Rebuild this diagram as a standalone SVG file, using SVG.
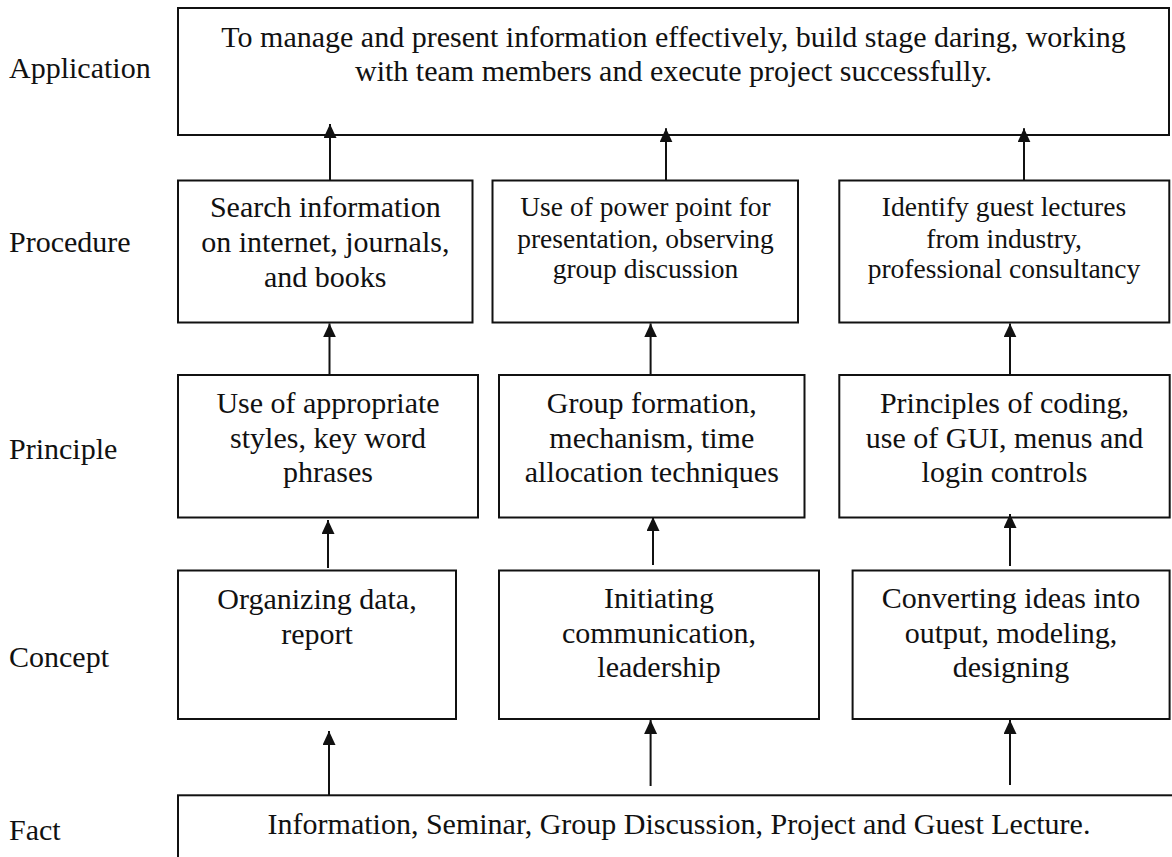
<svg xmlns="http://www.w3.org/2000/svg" width="1172" height="857" viewBox="0 0 1172 857">
<style>
  .box { fill: #ffffff; stroke: #111111; stroke-width: 2; }
  .t { font-family: "Liberation Serif", "Times New Roman", serif; font-size: 30px; fill: #111111; text-anchor: middle; }
  .s { font-family: "Liberation Serif", "Times New Roman", serif; font-size: 27.5px; fill: #111111; text-anchor: middle; }
  .lbl { font-family: "Liberation Serif", "Times New Roman", serif; font-size: 30px; fill: #111111; }
  .arr { stroke: #111111; stroke-width: 2; fill: none; marker-end: url(#ah); }
</style>
<defs>
  <marker id="ah" markerUnits="userSpaceOnUse" markerWidth="15" markerHeight="14" refX="14" refY="6.5" orient="auto">
    <path d="M0,0 L14,6.5 L0,13 z" fill="#111111"/>
  </marker>
</defs>
<rect width="1172" height="857" fill="#ffffff"/>

<g id="labels">
  <text class="lbl" x="9" y="78">Application</text>
  <text class="lbl" x="9" y="252">Procedure</text>
  <text class="lbl" x="9" y="459">Principle</text>
  <text class="lbl" x="9" y="667">Concept</text>
  <text class="lbl" x="9" y="840">Fact</text>
</g>

<g id="application">
  <rect class="box" x="178" y="8" width="991" height="127"/>
  <text class="t" x="673.5" y="47">To manage and present information effectively, build stage daring, working</text>
  <text class="t" x="673.5" y="80.5">with team members and execute project successfully.</text>
</g>

<g id="proc1">
  <rect class="box" x="178" y="180.5" width="294.5" height="142"/>
  <text class="t" x="325.3" y="217">Search information</text>
  <text class="t" x="325.3" y="252">on internet, journals,</text>
  <text class="t" x="325.3" y="287">and books</text>
</g>
<g id="proc2">
  <rect class="box" x="492.5" y="180.5" width="305.5" height="142"/>
  <text class="s" x="645.5" y="216">Use of power point for</text>
  <text class="s" x="645.5" y="247.5">presentation, observing</text>
  <text class="s" x="645.5" y="278">group discussion</text>
</g>
<g id="proc3">
  <rect class="box" x="839.3" y="180.5" width="330" height="142"/>
  <text class="s" x="1004" y="216">Identify guest lectures</text>
  <text class="s" x="1004" y="247.5">from industry,</text>
  <text class="s" x="1004" y="278">professional consultancy</text>
</g>

<g id="prin1">
  <rect class="box" x="178" y="375" width="300" height="142.5"/>
  <text class="t" x="328" y="412.5">Use of appropriate</text>
  <text class="t" x="328" y="447.5">styles, key word</text>
  <text class="t" x="328" y="481.5">phrases</text>
</g>
<g id="prin2">
  <rect class="box" x="499" y="375" width="305.5" height="142.5"/>
  <text class="t" x="651.8" y="412.5">Group formation,</text>
  <text class="t" x="651.8" y="447.5">mechanism, time</text>
  <text class="t" x="651.8" y="481.5">allocation techniques</text>
</g>
<g id="prin3">
  <rect class="box" x="839.3" y="375" width="330.4" height="142.5"/>
  <text class="t" x="1004.5" y="412.5">Principles of coding,</text>
  <text class="t" x="1004.5" y="447.5">use of GUI, menus and</text>
  <text class="t" x="1004.5" y="481.5">login controls</text>
</g>

<g id="con1">
  <rect class="box" x="178" y="570.5" width="278" height="148.5"/>
  <text class="t" x="317" y="609">Organizing data,</text>
  <text class="t" x="317" y="643.5">report</text>
</g>
<g id="con2">
  <rect class="box" x="499" y="570.5" width="320" height="148.5"/>
  <text class="t" x="659" y="608">Initiating</text>
  <text class="t" x="659" y="642.5">communication,</text>
  <text class="t" x="659" y="677">leadership</text>
</g>
<g id="con3">
  <rect class="box" x="852.6" y="570.5" width="317" height="148.5"/>
  <text class="t" x="1011" y="608">Converting ideas into</text>
  <text class="t" x="1011" y="642.5">output, modeling,</text>
  <text class="t" x="1011" y="677">designing</text>
</g>

<g id="fact">
  <rect class="box" x="178" y="795.3" width="1010" height="100"/>
  <text class="t" x="679" y="834">Information, Seminar, Group Discussion, Project and Guest Lecture.</text>
</g>

<g id="connectors">
  <line class="arr" x1="330" y1="180" x2="330" y2="124"/>
  <line class="arr" x1="666" y1="180" x2="666" y2="128.3"/>
  <line class="arr" x1="1024" y1="180" x2="1024" y2="128.3"/>

  <line class="arr" x1="329.5" y1="375" x2="329.5" y2="323.4"/>
  <line class="arr" x1="650.6" y1="375" x2="650.6" y2="323.4"/>
  <line class="arr" x1="1010" y1="375" x2="1010" y2="323.4"/>

  <line class="arr" x1="328" y1="568" x2="328" y2="520"/>
  <line class="arr" x1="653" y1="565" x2="653" y2="517"/>
  <line class="arr" x1="1010" y1="566" x2="1010" y2="514"/>

  <line class="arr" x1="329" y1="795" x2="329" y2="731"/>
  <line class="arr" x1="650.6" y1="786" x2="650.6" y2="720"/>
  <line class="arr" x1="1010" y1="785" x2="1010" y2="720"/>
</g>
</svg>
